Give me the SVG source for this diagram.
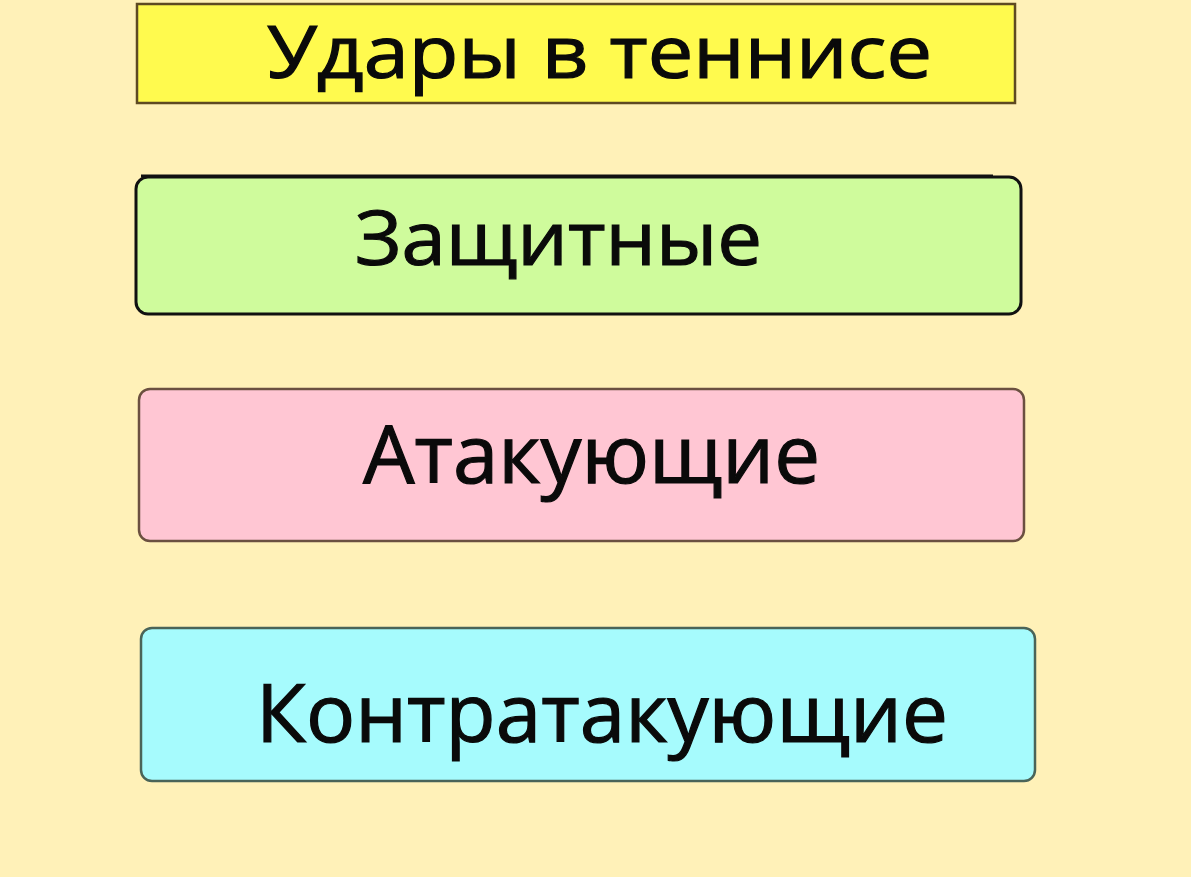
<svg xmlns="http://www.w3.org/2000/svg" width="1191" height="877" viewBox="0 0 1191 877">
  <style>
    .lbl { font-family: "Open Sans", "Noto Sans", "DejaVu Sans", sans-serif; fill: #0a0a0a; stroke: #0a0a0a; stroke-width: 1.2; }
  </style>
  <rect x="0" y="0" width="1191" height="877" fill="#FFF1B8"/>
  <g id="connectors"/>
  <g id="node-title">
    <rect x="137" y="4" width="878" height="99" fill="#FFFA4E" stroke="#5E4A22" stroke-width="2.5"/>
    <text class="lbl" x="267" y="78" font-size="73" textLength="665" lengthAdjust="spacingAndGlyphs">Удары в теннисе</text>
  </g>
  <g id="node-defensive">
    <path d="M141 176 L993 176" stroke="#111" stroke-width="3"/>
    <rect x="136" y="177" width="885" height="137" rx="12" fill="#CFFB9C" stroke="#111" stroke-width="3"/>
    <text class="lbl" x="355" y="265" font-size="75" textLength="407" lengthAdjust="spacingAndGlyphs">Защитные</text>
  </g>
  <g id="node-attacking">
    <rect x="139" y="389" width="885" height="152" rx="11" fill="#FFC6D3" stroke="#6B5040" stroke-width="2.5"/>
    <text class="lbl" x="363" y="483" font-size="80" textLength="457" lengthAdjust="spacingAndGlyphs">Атакующие</text>
  </g>
  <g id="node-counter">
    <rect x="141" y="628" width="894" height="153" rx="11" fill="#A6FBFD" stroke="#4A6458" stroke-width="2.5"/>
    <text class="lbl" x="256" y="742" font-size="80" textLength="692" lengthAdjust="spacingAndGlyphs">Контратакующие</text>
  </g>
</svg>
